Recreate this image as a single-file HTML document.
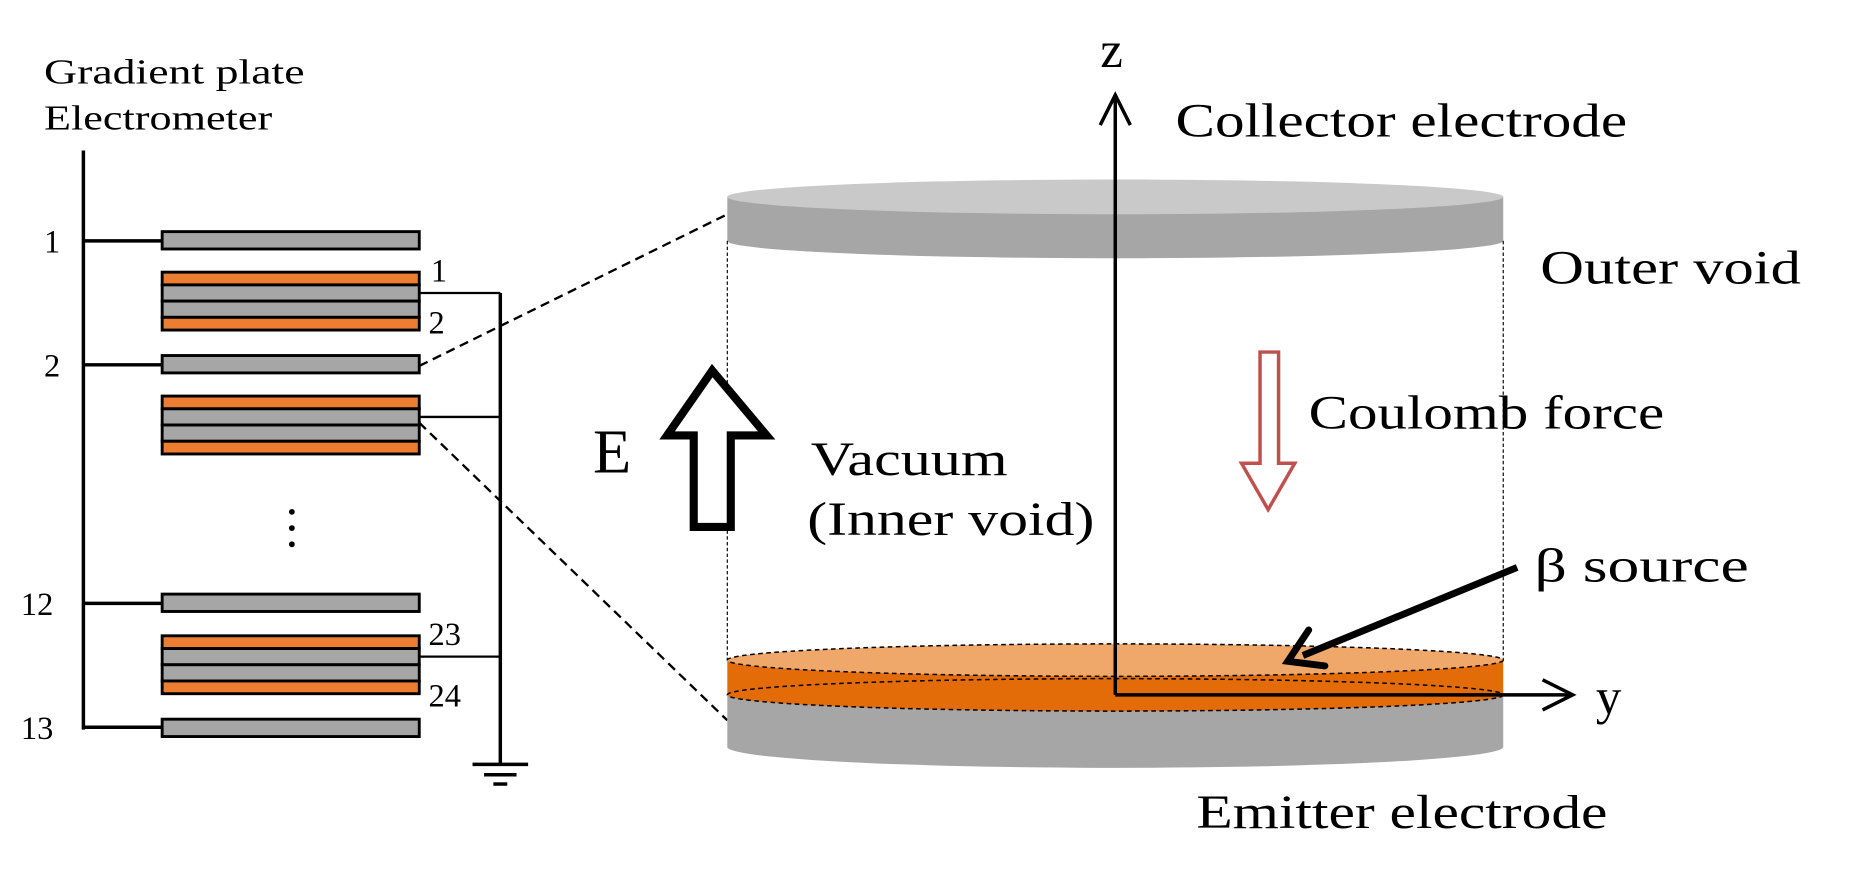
<!DOCTYPE html>
<html><head><meta charset="utf-8"><style>html,body{margin:0;padding:0;background:#fff}svg{display:block}</style></head>
<body>
<svg width="1853" height="879" viewBox="0 0 1600 759" xmlns="http://www.w3.org/2000/svg" font-family="'Liberation Serif', serif">
<rect width="1600" height="759" fill="#fff"/>
<!-- Left panel -->
<text x="38" y="72" font-size="30" textLength="225" lengthAdjust="spacingAndGlyphs">Gradient plate</text>
<text x="38" y="112" font-size="30" textLength="197" lengthAdjust="spacingAndGlyphs">Electrometer</text>
<line x1="72" y1="130" x2="72" y2="630" stroke="#000" stroke-width="3"/>
<g stroke="#000" stroke-width="3">
<line x1="72" y1="208" x2="140" y2="208"/>
<line x1="72" y1="315" x2="140" y2="315"/>
<line x1="72" y1="521" x2="140" y2="521"/>
<line x1="72" y1="628" x2="140" y2="628"/>
</g>
<g font-size="28">
<text x="38" y="218">1</text><text x="38" y="325">2</text>
<text x="18" y="531">12</text><text x="18" y="638">13</text>
<text x="372" y="243">1</text><text x="370" y="288">2</text>
<text x="370" y="557">23</text><text x="370" y="610">24</text>
</g>
<g stroke="#000" stroke-width="2.5">
<rect x="140" y="200" width="222" height="15" fill="#a6a6a6"/>
<rect x="140" y="307" width="222" height="15" fill="#a6a6a6"/>
<rect x="140" y="513" width="222" height="15" fill="#a6a6a6"/>
<rect x="140" y="621" width="222" height="15" fill="#a6a6a6"/>
<rect x="140" y="235" width="222" height="11" fill="#ed7d31"/>
<rect x="140" y="246" width="222" height="14" fill="#a6a6a6"/>
<rect x="140" y="260" width="222" height="14" fill="#a6a6a6"/>
<rect x="140" y="274" width="222" height="11" fill="#ed7d31"/>
<rect x="140" y="342" width="222" height="11" fill="#ed7d31"/>
<rect x="140" y="353" width="222" height="14" fill="#a6a6a6"/>
<rect x="140" y="367" width="222" height="14" fill="#a6a6a6"/>
<rect x="140" y="381" width="222" height="11" fill="#ed7d31"/>
<rect x="140" y="549" width="222" height="11" fill="#ed7d31"/>
<rect x="140" y="560" width="222" height="14" fill="#a6a6a6"/>
<rect x="140" y="574" width="222" height="14" fill="#a6a6a6"/>
<rect x="140" y="588" width="222" height="11" fill="#ed7d31"/>
</g>
<g stroke="#000" stroke-width="2">
<line x1="432" y1="253" x2="432" y2="660" stroke-width="3"/>
<line x1="362" y1="253" x2="432" y2="253"/>
<line x1="362" y1="360" x2="432" y2="360"/>
<line x1="362" y1="567" x2="432" y2="567"/>
<line x1="408" y1="660" x2="456" y2="660" stroke-width="3"/>
<line x1="418" y1="669" x2="446" y2="669" stroke-width="3"/>
<line x1="426" y1="677" x2="438" y2="677" stroke-width="3"/>
</g>
<circle cx="252" cy="442" r="2.5"/><circle cx="252" cy="456" r="2.5"/><circle cx="252" cy="470" r="2.5"/>
<line x1="362" y1="316" x2="628" y2="185" stroke="#000" stroke-width="2" stroke-dasharray="8,5"/>
<line x1="362" y1="365" x2="628" y2="622" stroke="#000" stroke-width="2" stroke-dasharray="8,5"/>
<!-- Top disc -->
<path d="M628,170 L628,208 A335,15 0 0 0 1298,208 L1298,170 Z" fill="#a6a6a6"/>
<ellipse cx="963" cy="170" rx="335" ry="15" fill="#c9c9c9"/>
<line x1="628" y1="208" x2="628" y2="570" stroke="#000" stroke-width="1" stroke-dasharray="3,2"/>
<line x1="1298" y1="208" x2="1298" y2="570" stroke="#000" stroke-width="1" stroke-dasharray="3,2"/>
<!-- Bottom disc -->
<path d="M628,600 L628,645 A335,18 0 0 0 1298,645 L1298,600 Z" fill="#a6a6a6"/>
<path d="M628,570 L628,600 A335,14 0 0 0 1298,600 L1298,570 Z" fill="#e36c09"/>
<ellipse cx="963" cy="600" rx="335" ry="14" fill="none" stroke="#000" stroke-width="1.3" stroke-dasharray="4,3"/>
<ellipse cx="963" cy="570" rx="335" ry="14" fill="#f0a86a" stroke="#000" stroke-width="1.3" stroke-dasharray="4,3"/>
<!-- Axes -->
<line x1="963" y1="600" x2="963" y2="82" stroke="#000" stroke-width="3"/>
<polyline points="950,108 963,82 976,108" fill="none" stroke="#000" stroke-width="3"/>
<line x1="963" y1="600" x2="1358" y2="600" stroke="#000" stroke-width="3"/>
<polyline points="1332,587 1358,600 1332,613" fill="none" stroke="#000" stroke-width="3"/>
<text x="950" y="58" font-size="44">z</text>
<text x="1378" y="616" font-size="44">y</text>
<!-- Labels -->
<g font-size="41" lengthAdjust="spacingAndGlyphs">
<text x="1015" y="118" textLength="390" lengthAdjust="spacingAndGlyphs">Collector electrode</text>
<text x="1330" y="245" textLength="225" lengthAdjust="spacingAndGlyphs">Outer void</text>
<text x="1130" y="370" textLength="307" lengthAdjust="spacingAndGlyphs">Coulomb force</text>
<text x="1325" y="502" textLength="185" lengthAdjust="spacingAndGlyphs">β source</text>
<text x="1033" y="715" textLength="355" lengthAdjust="spacingAndGlyphs">Emitter electrode</text>
<text x="700" y="410" textLength="170" lengthAdjust="spacingAndGlyphs">Vacuum</text>
<text x="697" y="462" textLength="248" lengthAdjust="spacingAndGlyphs">(Inner void)</text>
</g>
<text x="512" y="408" font-size="54">E</text>
<!-- E arrow -->
<path d="M615,320 L662,376 L631,376 L631,455 L599,455 L599,376 L576,376 Z" fill="#fff" stroke="#000" stroke-width="7" stroke-linejoin="miter"/>
<!-- Coulomb arrow -->
<path d="M1088,304 L1104,304 L1104,400 L1118,400 L1095,440 L1072,400 L1088,400 Z" fill="#fff" stroke="#c0504d" stroke-width="3"/>
<!-- beta arrow -->
<line x1="1310" y1="490" x2="1125" y2="566" stroke="#000" stroke-width="6"/>
<polyline points="1130,544 1112,571 1144,575" fill="none" stroke="#000" stroke-width="6" stroke-linecap="round"/>
</svg>
</body></html>
